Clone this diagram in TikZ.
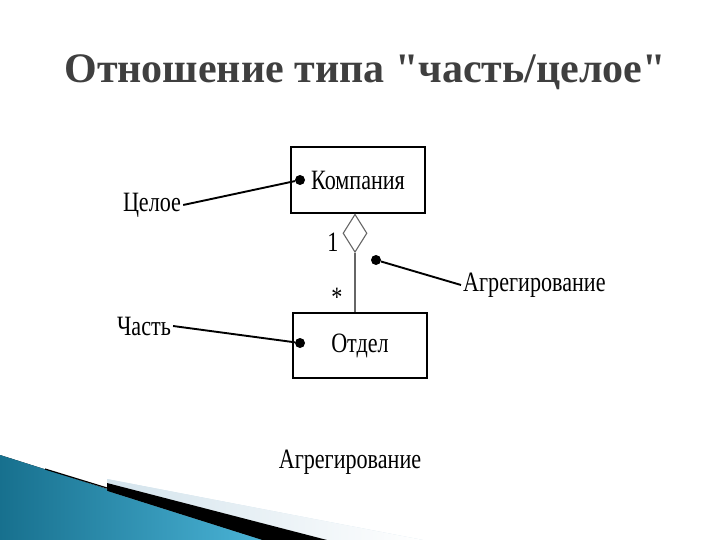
\documentclass[tikz,border=0pt]{standalone}
\usepackage{fontspec}
\setmainfont{Liberation Serif}
\newfontfamily\diafont[FakeStretch=0.79]{Liberation Serif}
\newfontfamily\titlefont[Ligatures=TeXOff]{Liberation Serif}
\usetikzlibrary{shapes.geometric}
\definecolor{titlegray}{HTML}{3F3F3F}
\definecolor{bluedark}{HTML}{17708E}
\definecolor{bluelight}{HTML}{4AB3D6}
\definecolor{stripegray}{HTML}{D3E3EC}

\begin{document}
\begin{tikzpicture}[x=1pt,y=-1pt,
  umlbox/.style={draw, line width=1.4pt, minimum width=134pt, minimum height=66pt, inner sep=0pt, font=\diafont\fontsize{28}{28}\selectfont},
  lbl/.style={font=\diafont\fontsize{28}{28}\selectfont, inner sep=2pt},
  dot/.style={circle, fill=black, inner sep=0pt, minimum size=10pt},
  leader/.style={line width=1.9pt}]
\useasboundingbox (0,0) rectangle (720,540);
% background strips, lower left
\fill[stripegray, left color=stripegray, right color=white] (107,479) -- (423,540) -- (327,540) -- (107,483) -- cycle;
\fill[black] (107,483) -- (327,540) -- (262,540) -- (107,491) -- cycle;
\fill[left color=bluedark, right color=bluelight] (0,455) -- (107,489) -- (107,491) -- (262,540) -- (0,540) -- cycle;
\draw[black, line width=1.2pt] (45,469) -- (107,488);
% title
\node[font=\titlefont\bfseries\fontsize{42}{42}\selectfont, text=titlegray] (title) at (365,72) {Отношение типа "часть/целое"};
% classes
\node[umlbox] (kompania) at (358,180) {Компания};
\node[umlbox, minimum height=65pt] (otdel) at (360,345.5) {Отдел};
\node[diamond, draw=gray!80!black, line width=1.1pt, minimum width=24pt, minimum height=38pt, inner sep=0pt, anchor=north] (agg) at ([xshift=-3pt]kompania.south) {};
\draw[gray!80!black, line width=1.1pt] (agg.south) -- (agg.south |- otdel.north);
\node[lbl] (one) at (333,242) {1};
\node[lbl] (many) at (337,297) {*};
% labels and leaders
\node[dot] (dk) at (300,180) {};
\node[dot] (dp) at (300,343) {};
\node[dot] (da) at (376,260) {};
\node[lbl] (celoe) at (152,205) {Целое};
\node[lbl] (chast) at (144,326) {Часть};
\node[lbl, anchor=west] (agr) at (461,285) {Агрегирование};
\draw[leader] (celoe.east) -- (dk);
\draw[leader] (chast.east) -- (dp);
\draw[leader] (da) -- (agr.west);
\node[lbl] (caption) at (350,462) {Агрегирование};
\end{tikzpicture}
\end{document}
